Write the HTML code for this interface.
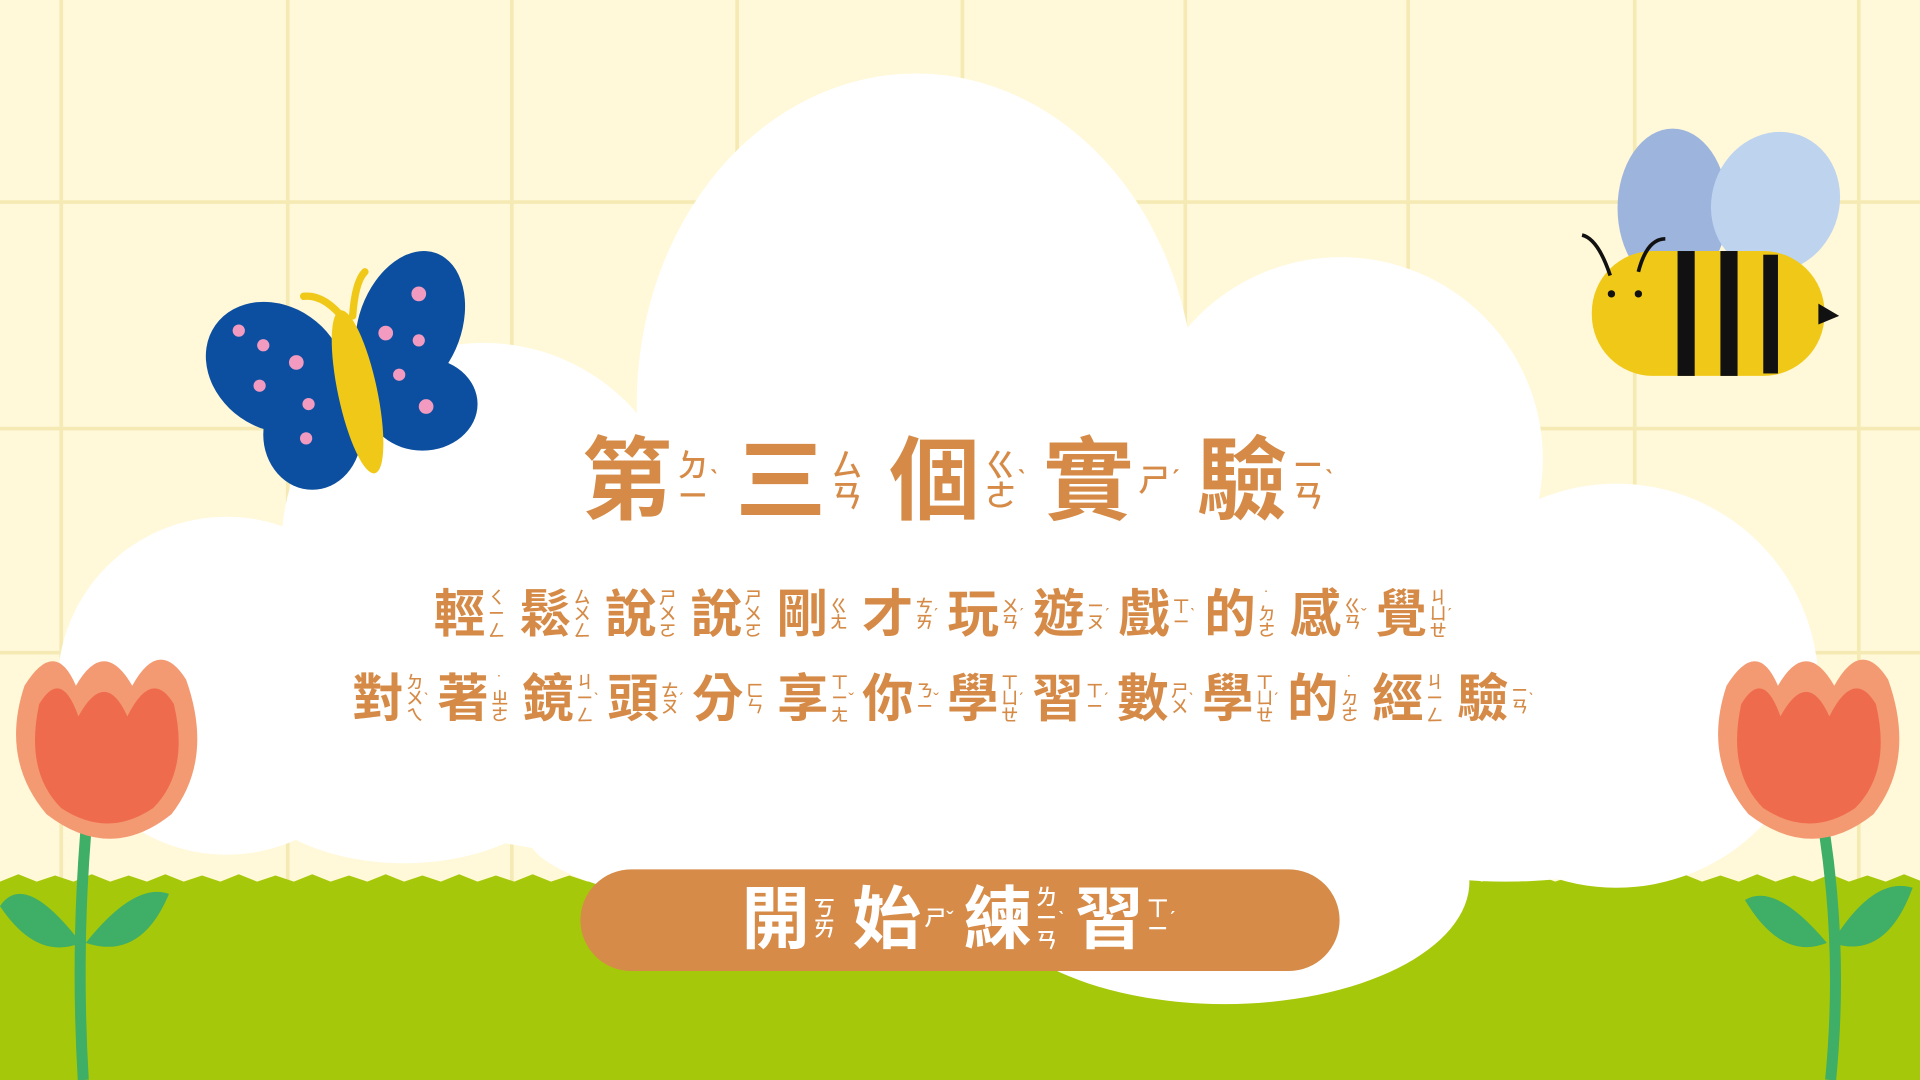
<!DOCTYPE html>
<html><head><meta charset="utf-8">
<style>
html,body{margin:0;padding:0;width:1920px;height:1080px;overflow:hidden;background:#fff8d9;}
#stage{position:absolute;left:0;top:0;width:1568px;height:882px;transform:scale(1.2244898);transform-origin:0 0;overflow:hidden;background:#fff8d9;font-family:"Liberation Sans","Noto Sans CJK TC",sans-serif;}
svg.bg{position:absolute;left:0;top:0;}
.line{position:absolute;left:0;width:1568px;display:flex;justify-content:center;align-items:center;color:#d58b47;font-weight:700;white-space:nowrap;}
.unit{display:inline-flex;align-items:center;}
.ch{line-height:1;}
.zy{display:inline-flex;flex-direction:column;align-items:center;line-height:0.95;font-weight:500;}
.tone{line-height:1;font-weight:500;}
#btn{position:absolute;left:474px;top:710px;width:620px;height:83px;border-radius:42px;background:#d68b48;}
</style></head><body>
<div id="stage">
<svg class="bg" width="1568" height="882" viewBox="0 0 1568 882">
 <g stroke="#f5eab4" stroke-width="3">
  <line x1="50" y1="0" x2="50" y2="882"/><line x1="235" y1="0" x2="235" y2="882"/><line x1="418" y1="0" x2="418" y2="882"/>
  <line x1="602" y1="0" x2="602" y2="882"/><line x1="786" y1="0" x2="786" y2="882"/><line x1="968" y1="0" x2="968" y2="882"/>
  <line x1="1150" y1="0" x2="1150" y2="882"/><line x1="1335" y1="0" x2="1335" y2="882"/><line x1="1518" y1="0" x2="1518" y2="882"/>
  <line x1="0" y1="165" x2="1568" y2="165"/><line x1="0" y1="350" x2="1568" y2="350"/><line x1="0" y1="533" x2="1568" y2="533"/>
 </g>
 <path fill="#a6c80a" d="M0,720 l15,-6 15,6 15,-5 15,5 15,-6 15,6 15,-5 15,5 15,-6 15,6 15,-5 15,5 15,-6 15,6 15,-5 15,5 15,-6 15,6 15,-5 15,5 15,-6 15,6 15,-5 15,5 15,-6 15,6 15,-5 15,5 15,-6 15,6 15,-5 15,5 15,-6 15,6 L600,720 L1000,720 l15,-6 15,6 15,-5 15,5 15,-6 15,6 15,-5 15,5 15,-6 15,6 15,-5 15,5 15,-6 15,6 15,-5 15,5 15,-6 15,6 15,-5 15,5 15,-6 15,6 15,-5 15,5 15,-6 15,6 15,-5 15,5 15,-6 15,6 15,-5 15,5 15,-6 15,6 15,-5 15,5 15,-6 15,6 L1568,720 L1568,882 L0,882 Z"/>
 <g fill="#ffffff">
  <ellipse cx="748" cy="330" rx="228" ry="270"/>
  <circle cx="1095" cy="375" r="165"/>
  <circle cx="395" cy="445" r="165"/>
  <circle cx="185" cy="560" r="138"/>
  <circle cx="1320" cy="560" r="165"/>
  <ellipse cx="810" cy="585" rx="620" ry="135"/>
  <ellipse cx="330" cy="620" rx="140" ry="85"/>
  <ellipse cx="1230" cy="630" rx="200" ry="90"/>
  <ellipse cx="760" cy="680" rx="330" ry="75"/>
  <ellipse cx="1000" cy="720" rx="200" ry="100"/>
 </g>
 <g>
  <ellipse cx="225" cy="300" rx="60" ry="50" fill="#0c4fa0" transform="rotate(35 225 300)"/>
  <ellipse cx="255" cy="355" rx="40" ry="45" fill="#0c4fa0"/>
  <ellipse cx="335" cy="265" rx="42" ry="62" fill="#0c4fa0" transform="rotate(20 335 265)"/>
  <ellipse cx="345" cy="330" rx="45" ry="38" fill="#0c4fa0"/>
  <g fill="#f29ac0"><circle cx="195" cy="270" r="5"/><circle cx="215" cy="282" r="5"/><circle cx="242" cy="296" r="6"/><circle cx="212" cy="315" r="5"/><circle cx="252" cy="330" r="5"/><circle cx="250" cy="358" r="5"/><circle cx="342" cy="240" r="6"/><circle cx="315" cy="272" r="6"/><circle cx="342" cy="278" r="5"/><circle cx="326" cy="306" r="5"/><circle cx="348" cy="332" r="6"/></g>
  <ellipse cx="292" cy="320" rx="16" ry="68" fill="#f0c818" transform="rotate(-12 292 320)"/>
  <path d="M282,262 Q265,240 248,242 M288,258 Q290,230 298,222" stroke="#f0c818" stroke-width="6" fill="none" stroke-linecap="round"/>
 </g>
 <g>
  <ellipse cx="1366" cy="170" rx="45" ry="65" fill="#9db4dd"/>
  <ellipse cx="1450" cy="165" rx="52" ry="58" fill="#bed3ee" transform="rotate(20 1450 165)"/>
  <rect x="1300" y="205" width="190" height="102" rx="50" fill="#f0c818"/>
  <g fill="#111"><rect x="1370" y="205" width="14" height="102"/><rect x="1405" y="205" width="14" height="102"/><rect x="1440" y="208" width="12" height="97"/></g>
  <path d="M1485,248 L1502,258 L1485,265 Z" fill="#111"/>
  <circle cx="1316" cy="240" r="3" fill="#111"/><circle cx="1338" cy="240" r="3" fill="#111"/>
  <path d="M1315,225 Q1305,195 1292,192 M1338,222 Q1345,195 1360,195" stroke="#111" stroke-width="3" fill="none"/>
 </g>
 <g>
  <path d="M70,680 Q62,780 68,882" stroke="#3fae66" stroke-width="9" fill="none"/>
  <path d="M66,770 Q20,710 0,740 Q30,785 66,770 Z M70,770 Q110,720 138,730 Q115,785 70,770 Z" fill="#3fae66"/>
  <path d="M20,560 Q45,520 62,560 Q85,520 108,560 Q130,520 152,555 Q175,620 140,665 Q90,705 38,665 Q0,620 20,560 Z" fill="#f39a72"/>
  <path d="M32,575 Q50,545 64,585 Q86,545 104,585 Q124,545 142,575 Q155,630 125,660 Q88,685 50,660 Q20,630 32,575 Z" fill="#ef6b4e"/>
 </g>
 <g>
  <path d="M1490,680 Q1505,780 1495,882" stroke="#3fae66" stroke-width="9" fill="none"/>
  <path d="M1492,770 Q1450,720 1425,735 Q1455,785 1492,770 Z M1496,770 Q1530,715 1562,725 Q1540,785 1496,770 Z" fill="#3fae66"/>
  <path d="M1410,560 Q1435,520 1452,560 Q1475,520 1498,560 Q1520,520 1542,555 Q1565,620 1530,665 Q1480,705 1428,665 Q1390,620 1410,560 Z" fill="#f39a72"/>
  <path d="M1422,575 Q1440,545 1454,585 Q1476,545 1494,585 Q1514,545 1532,575 Q1545,630 1515,660 Q1478,685 1440,660 Q1410,630 1422,575 Z" fill="#ef6b4e"/>
 </g>
</svg>
<div id="btn"></div>
<div class="line" id="title" style="top:350px;height:85px;"></div>
<div class="line" id="l2" style="top:477px;height:50px;left:-13px;"></div>
<div class="line" id="l3" style="top:546px;height:50px;left:-13px;"></div>
<div class="line" id="bt" style="top:718px;height:66px;color:#fff;"></div>
</div>
<script>
const titleData=[["第","ㄉㄧ","ˋ"],["三","ㄙㄢ",""],["個","ㄍㄜ","ˋ"],["實","ㄕ","ˊ"],["驗","ㄧㄢ","ˋ"]];
const line2Data=[["輕","ㄑㄧㄥ",""],["鬆","ㄙㄨㄥ",""],["說","ㄕㄨㄛ",""],["說","ㄕㄨㄛ",""],["剛","ㄍㄤ",""],["才","ㄘㄞ","ˊ"],["玩","ㄨㄢ","ˊ"],["遊","ㄧㄡ","ˊ"],["戲","ㄒㄧ","ˋ"],["的","˙ㄉㄜ",""],["感","ㄍㄢ","ˇ"],["覺","ㄐㄩㄝ","ˊ"]];
const line3Data=[["對","ㄉㄨㄟ","ˋ"],["著","˙ㄓㄜ",""],["鏡","ㄐㄧㄥ","ˋ"],["頭","ㄊㄡ","ˊ"],["分","ㄈㄣ",""],["享","ㄒㄧㄤ","ˇ"],["你","ㄋㄧ","ˇ"],["學","ㄒㄩㄝ","ˊ"],["習","ㄒㄧ","ˊ"],["數","ㄕㄨ","ˋ"],["學","ㄒㄩㄝ","ˊ"],["的","˙ㄉㄜ",""],["經","ㄐㄧㄥ",""],["驗","ㄧㄢ","ˋ"]];
const btnData=[["開","ㄎㄞ",""],["始","ㄕ","ˇ"],["練","ㄌㄧㄢ","ˋ"],["習","ㄒㄧ","ˊ"]];
function build(id,data,size,zsize,gap){
  const host=document.getElementById(id);
  data.forEach((d,i)=>{
    const u=document.createElement('span');u.className='unit';
    
    
    u.style.marginRight=(i<data.length-1?gap:0)+'px';
    const c=document.createElement('span');c.className='ch';c.textContent=d[0];c.style.fontSize=size+'px';
    const z=document.createElement('span');z.className='zy';z.style.fontSize=zsize+'px';z.style.marginLeft=(zsize*0.15)+'px';
    for(const k of d[1]){const s=document.createElement('span');s.textContent=k;z.appendChild(s);}
    const t=document.createElement('span');t.className='tone';t.style.fontSize=zsize+'px';t.textContent=d[2];t.style.minWidth=(zsize*0.45)+'px';
    u.appendChild(c);u.appendChild(z);u.appendChild(t);host.appendChild(u);
  });
}
build('title',titleData,74,26,10);
build('l2',line2Data,42,14,5.5);
build('l3',line3Data,42,14,5);
build('bt',btnData,56,18,6);
</script>
</body></html>
